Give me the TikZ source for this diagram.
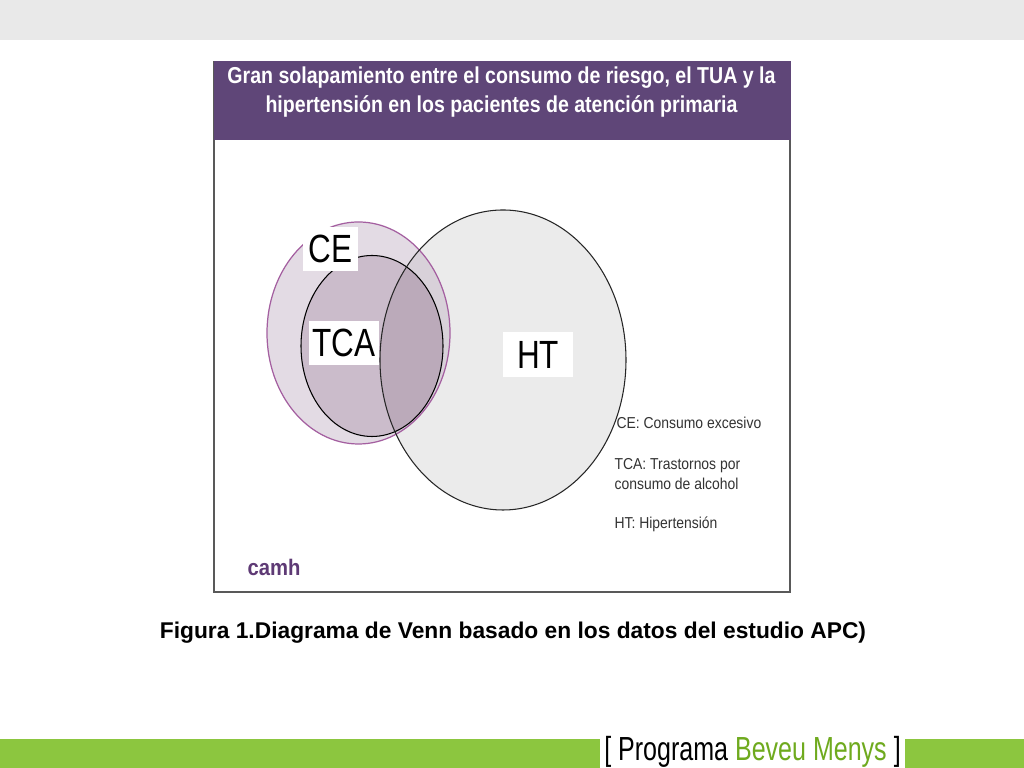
\documentclass[tikz,border=0pt]{standalone}
\usepackage{fontspec}
\setmainfont{Liberation Sans}
\usepackage{tikz}
\usetikzlibrary{calc}
\definecolor{bargrey}{HTML}{E9E9E9}
\definecolor{bargreen}{HTML}{8CC63F}
\definecolor{wordgreen}{HTML}{6FAA1E}
\definecolor{titlepurple}{HTML}{5F4678}
\definecolor{edgepurple}{HTML}{A45FA0}
\definecolor{cefill}{HTML}{E3DBE4}
\definecolor{tcafill}{HTML}{CBBCCB}
\definecolor{htfill}{HTML}{EBEBEB}
\definecolor{cehtfill}{HTML}{D8D1D9}
\definecolor{allfill}{HTML}{BBAABA}
\definecolor{camhpurple}{HTML}{5E3A75}
\definecolor{legendgrey}{HTML}{333333}
\tikzset{
    labelbox/.style={fill=white,inner sep=0pt,xscale=0.8,font=\fontsize{11.2}{11.2}\selectfont,text=black},
    legendtext/.style={anchor=west,inner sep=0pt,text=legendgrey,xscale=0.88,align=left,font=\fontsize{4.5}{5.6}\selectfont}
}
\begin{document}
\begin{tikzpicture}
        \useasboundingbox (0,0) rectangle (10.24,7.68);
        \fill[white] (0,0) rectangle (10.24,7.68);
        % bars
        \fill[bargrey] (0,7.28) rectangle (10.24,7.68);
        \fill[bargreen] (0,0) rectangle (6.0,0.29);
        \fill[bargreen] (9.05,0) rectangle (10.24,0.29);
        % panel
        \draw[color=black!65,line width=0.3pt] (2.14,1.76) rectangle (7.90,7.06);
        \fill[titlepurple] (2.135,6.28) rectangle (7.905,7.065);
        \node[text=white,align=center,xscale=0.85,font=\bfseries\fontsize{6.55}{8.5}\selectfont] (title) at (5.015,6.76)
            {Gran solapamiento entre el consumo de riesgo, el TUA y la\\hipertensión en los pacientes de atención primaria};
        % circles
        \def\ceshape{(3.585,4.35) ellipse (0.915 and 1.11)}
        \def\tcashape{(3.72,4.22) ellipse (0.71 and 0.905)}
        \def\htshape{(5.03,4.08) ellipse (1.23 and 1.50)}
        \fill[cefill] \ceshape;
        \fill[tcafill] \tcashape;
        \fill[htfill] \htshape;
        \begin{scope}
            \clip \htshape;
            \fill[cehtfill] \ceshape;
            \fill[allfill] \tcashape;
        \end{scope}
        \draw[edgepurple,line width=0.35pt] \ceshape;
        \draw[black,line width=0.3pt] \tcashape;
        \draw[black!85,line width=0.3pt] \htshape;
        % labels
        \node[labelbox,minimum width=0.69cm,minimum height=0.44cm] (ce) at (3.305,5.19) {CE};
        \node[labelbox,minimum width=0.875cm,minimum height=0.44cm] (tca) at (3.44,4.25) {TCA};
        \node[labelbox,minimum width=0.875cm,minimum height=0.45cm] (ht) at (5.38,4.135) {HT};
        \node[legendtext] (legendce) at (6.16,3.45) {CE: Consumo excesivo};
        \node[legendtext] (legendtca) at (6.14,2.94) {TCA: Trastornos por\\consumo de alcohol};
        \node[legendtext] (legendht) at (6.14,2.44) {HT: Hipertensión};
        \node[anchor=west,inner sep=0pt,xscale=0.9,text=camhpurple,font=\bfseries\fontsize{6.4}{6.4}\selectfont] (camh) at (2.47,2.01) {camh};
        % caption and footer
        \node[inner sep=0pt,font=\bfseries\fontsize{6.48}{6.48}\selectfont] (caption) at (5.13,1.35)
            {Figura 1.Diagrama de Venn basado en los datos del estudio APC)};
        \node[inner sep=0pt,xscale=0.75,font=\fontsize{9.5}{9.5}\selectfont] (footer) at (7.525,0.16)
            {[ Programa \textcolor{wordgreen}{Beveu Menys} ]};
    \end{tikzpicture}
\end{document}
